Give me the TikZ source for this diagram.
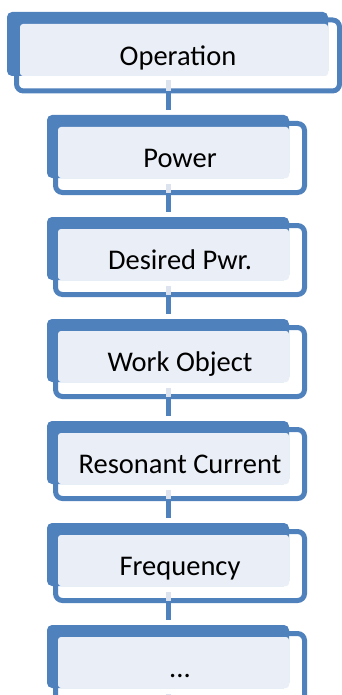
\documentclass[tikz,border=0pt]{standalone}
\usepackage{fontspec}
\setmainfont{Carlito}
\definecolor{accent}{HTML}{4F81BD}
\definecolor{pale}{HTML}{EAEEF6}
\definecolor{stub}{HTML}{DCE3EE}
\newcommand\mythreedots{...}
\tikzset{
  backbox/.style={fill=accent, rounded corners=5pt},
  frontbox/.style={draw=accent, line width=5pt, fill=white, rounded corners=7pt},
  palebox/.style={fill=pale, rounded corners=3pt},
  boxtext/.style={font=\fontsize{28.5}{34}\selectfont, anchor=base, inner sep=0pt},
  link/.style={draw=accent, line width=5pt},
  linkstub/.style={draw=stub, line width=5pt},
}
\begin{document}
\begin{tikzpicture}[x=1pt,y=-1pt]
\useasboundingbox (0,0) rectangle (342,695);
% top box
\draw[frontbox] (16.5,20) rectangle (339.5,91);
\fill[backbox] (7,12) rectangle (328,76);
\fill[palebox] (20,24) rectangle (328,76);
\node[boxtext] (op) at (178,66) {Operation};
\coordinate (op-in) at (168,80);
\coordinate (op-out) at (168,91);
\draw[linkstub] (op-in) -- (op-out);
% list boxes
\foreach \i/\n/\t in {0/pw/Power,1/dp/Desired Pwr.,2/wo/Work Object,3/rc/Resonant Current,4/fr/Frequency,5/dots/\mythreedots}{
  \pgfmathsetmacro\T{115+102*\i}
  \draw[frontbox] (55.5,\T+8.5) rectangle (304.5,\T+77.5);
  \fill[backbox] (47,\T) rectangle (289,\T+63);
  \fill[palebox] (58,\T+12) rectangle (289,\T+63);
  \node[boxtext] (\n) at (180,\T+52.5) {\t};
  \coordinate (\n-top) at (168,\T-5);
  \coordinate (\n-in) at (168,\T+69);
  \coordinate (\n-out) at (168,\T+77.5);
  \draw[linkstub] (\n-in) -- (\n-out);
}
\draw[link] (op-out) -- (pw-top);
\draw[link] (pw-out) -- (dp-top);
\draw[link] (dp-out) -- (wo-top);
\draw[link] (wo-out) -- (rc-top);
\draw[link] (rc-out) -- (fr-top);
\draw[link] (fr-out) -- (dots-top);
\end{tikzpicture}
\end{document}
